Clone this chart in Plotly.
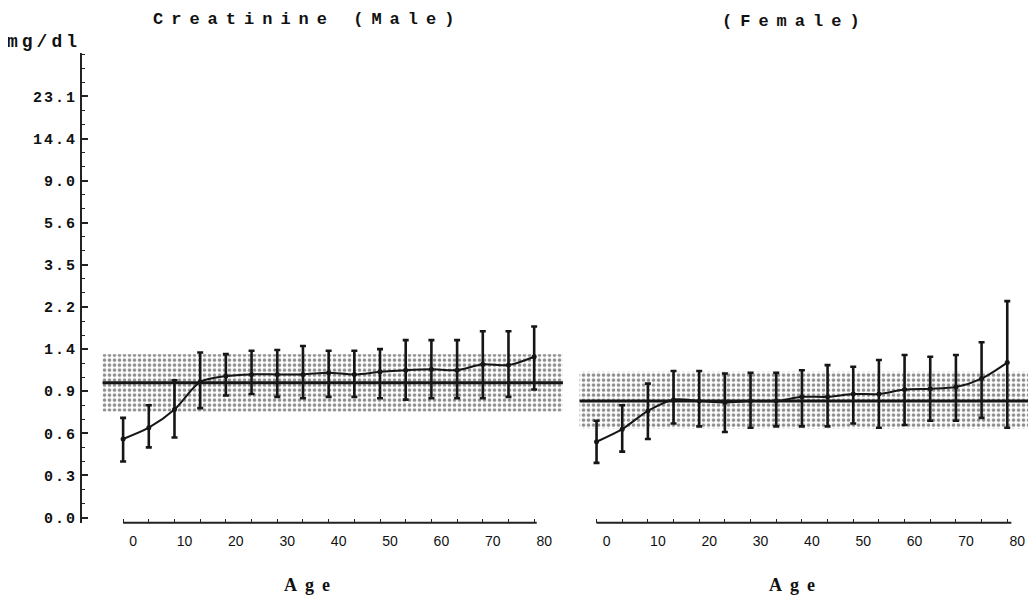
import numpy as np
import plotly.graph_objects as go

# ---------------- data ----------------
ages = [0, 5, 10, 15, 20, 25, 30, 35, 40, 45, 50, 55, 60, 65, 70, 75, 80]

male_mean = [0.56, 0.64, 0.77, 1.01, 1.08, 1.10, 1.10, 1.10, 1.12, 1.10, 1.13, 1.15, 1.16, 1.15, 1.22, 1.21, 1.31]
male_upper = [0.71, 0.80, 1.03, 1.36, 1.34, 1.38, 1.39, 1.46, 1.38, 1.38, 1.40, 1.57, 1.57, 1.57, 1.74, 1.74, 1.83]
male_lower = [0.40, 0.50, 0.57, 0.78, 0.87, 0.88, 0.86, 0.85, 0.86, 0.86, 0.85, 0.84, 0.85, 0.85, 0.85, 0.86, 0.92]

female_mean = [0.54, 0.63, 0.76, 0.84, 0.83, 0.82, 0.83, 0.83, 0.86, 0.86, 0.88, 0.88, 0.92, 0.93, 0.95, 1.05, 1.24]
female_upper = [0.69, 0.80, 0.99, 1.14, 1.14, 1.11, 1.12, 1.12, 1.15, 1.21, 1.19, 1.27, 1.33, 1.31, 1.33, 1.53, 2.38]
female_lower = [0.39, 0.47, 0.56, 0.67, 0.65, 0.61, 0.64, 0.65, 0.65, 0.65, 0.67, 0.64, 0.66, 0.69, 0.69, 0.71, 0.64]

male_ref = 1.00
male_ref_low = 0.755
male_ref_high = 1.34
female_ref = 0.83
female_ref_low = 0.635
female_ref_high = 1.13

y_tick_values = [0.0, 0.3, 0.6, 0.9, 1.4, 2.2, 3.5, 5.6, 9.0, 14.4, 23.1]
y_tick_labels = ["0.0", "0.3", "0.6", "0.9", "1.4", "2.2", "3.5", "5.6", "9.0", "14.4", "23.1"]
x_tick_values = [0, 10, 20, 30, 40, 50, 60, 70, 80]
x_minor_values = [5, 15, 25, 35, 45, 55, 65, 75]

# ------------- scale (nonlinear, equally spaced ticks) -------------
tick_pos = list(range(len(y_tick_values)))


def to_pos(v):
    return np.interp(np.asarray(v, dtype=float), y_tick_values, tick_pos)


# page body has an 8px margin: lay out in window pixels, convert to figure fractions
OFF = 8
W, H = 1036 - OFF, 603 - OFF


def fx(p):
    return (p - OFF) / W


def fy(p):
    return 1 - (p - OFF) / H


MONO = "Liberation Mono, Courier New, monospace"
SERIF = "Liberation Serif, Times New Roman, serif"
SANS = "Liberation Sans, Arial, sans-serif"
INK = "#161616"

fig = go.Figure()


def add_panel(xa, ya, mean, up, lo, ref, rlo, rhi, bx0, bx1):
    # stippled reference band
    fig.add_trace(go.Scatter(
        x=[bx0, bx1, bx1, bx0, bx0],
        y=list(to_pos([rlo, rlo, rhi, rhi, rlo])),
        mode="lines", line=dict(width=0), fill="toself",
        fillcolor="rgba(0,0,0,0)",
        fillpattern=dict(shape=".", size=5, solidity=0.42,
                         fgcolor="#1c1c1c", bgcolor="white"),
        xaxis=xa, yaxis=ya, hoverinfo="skip"))
    # horizontal reference line
    fig.add_trace(go.Scatter(
        x=[bx0, bx1], y=list(to_pos([ref, ref])), mode="lines",
        line=dict(color=INK, width=3),
        xaxis=xa, yaxis=ya, hoverinfo="skip"))
    pm = to_pos(mean)
    fig.add_trace(go.Scatter(
        x=ages, y=pm, mode="lines+markers",
        line=dict(color=INK, width=2, shape="spline", smoothing=0.8),
        marker=dict(color=INK, size=5),
        error_y=dict(type="data", symmetric=False,
                     array=to_pos(up) - pm, arrayminus=pm - to_pos(lo),
                     color=INK, thickness=2.6, width=3),
        xaxis=xa, yaxis=ya))


add_panel("x", "y", male_mean, male_upper, male_lower,
          male_ref, male_ref_low, male_ref_high, -4.0, 85.6)
add_panel("x2", "y2", female_mean, female_upper, female_lower,
          female_ref, female_ref_low, female_ref_high, -3.3, 84.6)

YMIN, YMAX = -0.12, 11.04

xaxis_common = dict(
    tickmode="array", tickvals=x_tick_values,
    ticktext=[str(v) for v in x_tick_values],
    ticks="inside", ticklen=4, tickwidth=1.2, tickcolor="#222",
    showgrid=False, zeroline=False, showline=False,
    ticklabelshift=10, ticklabelstandoff=8,
    tickfont=dict(family=SANS, size=14, color="#111"),
    minor=dict(tickmode="array", tickvals=x_minor_values, ticks="inside",
               ticklen=4, tickwidth=1.2, tickcolor="#222", showgrid=False),
    fixedrange=True,
)

fig.update_layout(
    width=W, height=H,
    margin=dict(l=0, r=0, t=0, b=0),
    paper_bgcolor="white", plot_bgcolor="white",
    showlegend=False,
    xaxis=dict(domain=[fx(82), fx(565)], range=[-8, 86], anchor="y", **xaxis_common),
    xaxis2=dict(domain=[fx(576), 1.0], range=[-4, 85.6], anchor="y2", **xaxis_common),
    yaxis=dict(
        domain=[fy(527), fy(53)], range=[YMIN, YMAX], anchor="x",
        tickmode="array", tickvals=tick_pos,
        ticktext=[f'<span style="letter-spacing:2px">{t}</span>' for t in y_tick_labels],
        ticks="inside", ticklen=6, tickwidth=1.5, tickcolor="#222",
        showline=True, linecolor="#222", linewidth=2,
        showgrid=False, zeroline=False,
        ticklabelstandoff=0,
        tickfont=dict(family=MONO, size=15, color="#111", weight="bold"),
        minor=dict(dtick=1 / 3, tick0=0, ticks="inside", ticklen=3,
                   tickwidth=1.2, tickcolor="#222", showgrid=False),
        fixedrange=True,
    ),
    yaxis2=dict(
        domain=[fy(527), fy(53)], range=[YMIN, YMAX], anchor="x2",
        matches="y", visible=False, fixedrange=True,
    ),
)

# x axis lines (span the age range only)
fig.add_shape(type="line", xref="x", yref="y domain", x0=0, x1=80.5, y0=0, y1=0,
              line=dict(color="#222", width=2))
fig.add_shape(type="line", xref="x2", yref="y2 domain", x0=0, x1=80.8, y0=0, y1=0,
              line=dict(color="#222", width=2))

ls = "letter-spacing:8px"
fig.add_annotation(text=f'<span style="{ls}">Creatinine (Male)</span>',
                   xref="paper", yref="paper", x=fx(307), y=fy(20),
                   showarrow=False, xanchor="center", yanchor="middle",
                   font=dict(family=MONO, size=17, color="#111", weight="bold"))
fig.add_annotation(text=f'<span style="{ls}">(Female)</span>',
                   xref="paper", yref="paper", x=fx(795), y=fy(22),
                   showarrow=False, xanchor="center", yanchor="middle",
                   font=dict(family=MONO, size=17, color="#111", weight="bold"))
fig.add_annotation(text='<span style="letter-spacing:4px">mg/dl</span>',
                   xref="paper", yref="paper", x=fx(5), y=fy(42),
                   showarrow=False, xanchor="left", yanchor="middle",
                   font=dict(family=MONO, size=18, color="#111", weight="bold"))
for cx in (307, 792):
    fig.add_annotation(text='<span style="letter-spacing:8px">Age</span>',
                       xref="paper", yref="paper", x=fx(cx + 4), y=fy(590),
                       showarrow=False, xanchor="center", yanchor="middle",
                       font=dict(family=SERIF, size=18, color="#111", weight="bold"))

fig.write_html("out.html")
